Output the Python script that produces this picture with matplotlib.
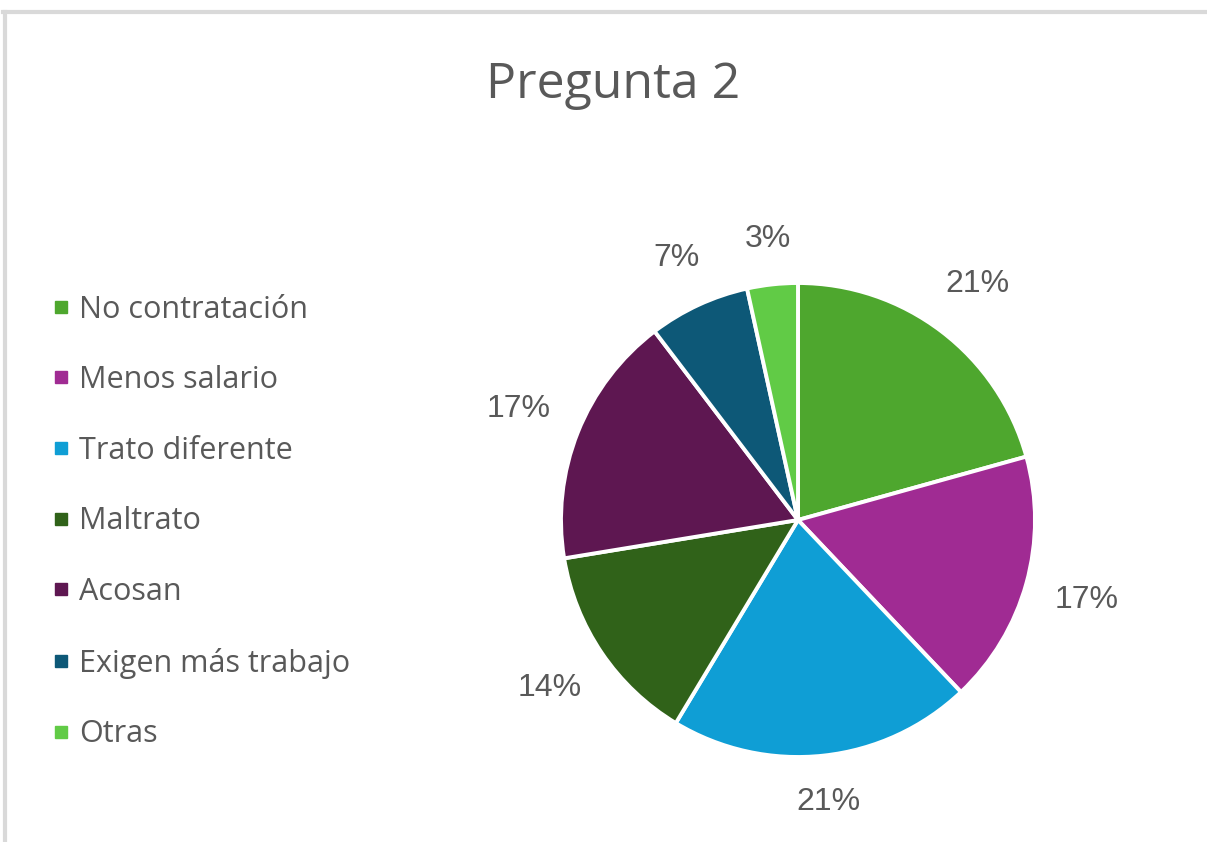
import matplotlib
matplotlib.use("Agg")
import numpy as np
import matplotlib.pyplot as plt
from matplotlib.lines import Line2D

title = "Pregunta 2"
categories = ["No contratación", "Menos salario", "Trato diferente", "Maltrato",
              "Acosan", "Exigen más trabajo", "Otras"]
counts = [6, 5, 6, 4, 5, 2, 1]
colors = ["#4EA72E", "#A02B93", "#0F9ED5", "#306219", "#5E1751", "#0D5877", "#61CB46"]

W, H = 1207, 842
fig = plt.figure(figsize=(W / 100, H / 100), dpi=100)
fig.patch.set_facecolor("white")

# frame lines (top and left)
fig.add_artist(Line2D([3 / W, 1], [1 - 12 / H, 1 - 12 / H], transform=fig.transFigure,
                      color="#D9D9D9", lw=3))
fig.add_artist(Line2D([5 / W, 5 / W], [0, 1 - 12 / H], transform=fig.transFigure,
                      color="#D9D9D9", lw=3))

cx, cy, R = 798, 520, 237
ax = fig.add_axes([(cx - R) / W, (H - cy - R) / H, 2 * R / W, 2 * R / H])
wedges, texts, autotexts = ax.pie(
    counts, colors=colors, startangle=90, counterclock=False,
    autopct=lambda p: f"{p:.0f}%", pctdistance=1.25,
    wedgeprops=dict(edgecolor="white", linewidth=2.8),
    textprops=dict(color="#595959", fontsize=23, family="Liberation Sans"))
ax.set_xlim(-1, 1)
ax.set_ylim(-1, 1)
ax.set_aspect("equal")
ax.axis("off")

# place labels just outside the pie, like Excel's best-fit outside end
fig.canvas.draw()
renderer = fig.canvas.get_renderer()
gap = 28.0
for w, t in zip(wedges, autotexts):
    ang = np.deg2rad((w.theta1 + w.theta2) / 2)
    bb = t.get_window_extent(renderer)
    hw, hh = bb.width / 2, bb.height / 2
    r_px = R + gap + hw * abs(np.cos(ang)) + hh * abs(np.sin(ang))
    t.set_position((r_px / R * np.cos(ang), r_px / R * np.sin(ang)))

fig.text(613 / W, 1 - 98 / H, title, ha="center", va="baseline", fontsize=36,
         color="#595959", family="Open Sans")

handles = [Line2D([], [], marker="s", linestyle="none", markersize=9,
                  markerfacecolor=c, markeredgecolor=c) for c in colors]
leg = fig.legend(handles, categories, loc="upper left",
                 bbox_to_anchor=(24 / W, 1 - 267 / H), frameon=False,
                 prop=dict(family="Open Sans", size=22), labelcolor="#595959",
                 handlelength=0.6, handletextpad=0.3, labelspacing=1.33)

fig.savefig("out.png", dpi=100, facecolor="white")
